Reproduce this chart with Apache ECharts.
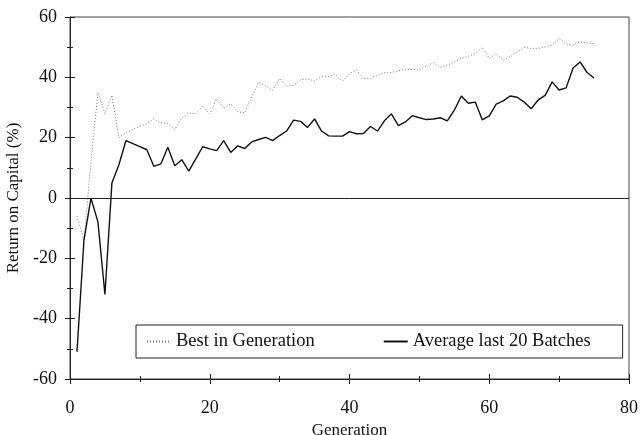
<!DOCTYPE html>
<html>
<head>
<meta charset="utf-8" />
<title>Return on Capital</title>
<script src="https://cdn.jsdelivr.net/npm/echarts@6/dist/echarts.min.js"></script>
<style>
	html, body { margin: 0; padding: 0; background: #fff; }
	#main { width: 641px; height: 435px; }
</style>
</head>
<body>
<div id="main"></div>
<script>
// generations 1..75
var generations = [];
for (var g = 1; g <= 75; g++) generations.push(g);

var bestInGeneration = [
	-6, -14, 12, 35, 28, 34, 20, 21.6, 22.7, 23.8,
	24.7, 26.2, 25, 24.7, 22.7, 26.5, 28.2, 28, 30.6, 27.8,
	32.9, 29.7, 31.3, 28.6, 28.2, 33.5, 38.3, 37.2, 35.7, 39.6,
	37.1, 37.4, 39.2, 39.5, 38.8, 40.2, 40.2, 41, 38.7, 41.3,
	42.4, 39.6, 39.6, 40.7, 41.5, 41.6, 42.2, 42.6, 42.6, 42.4,
	43.7, 44.9, 43.3, 44, 45.1, 46.3, 47, 47.9, 49.9, 46.3,
	47.9, 45.7, 46.8, 48.4, 49.9, 49.6, 49.6, 50.1, 50.7, 52.9,
	51, 50.7, 51.8, 51.4, 51.2
];

var averageLast20 = [
	-51, -14, 0, -8, -32, 5, 11, 19, 18, 17,
	16, 10.5, 11.3, 16.8, 10.7, 12.7, 8.9, 13, 17, 16.3,
	15.7, 19, 15.1, 17.3, 16.4, 18.6, 19.4, 20.1, 19, 20.7,
	22.2, 25.8, 25.4, 23.4, 26.2, 22.2, 20.6, 20.5, 20.5, 22,
	21.3, 21.4, 23.7, 22.2, 25.6, 27.9, 24, 25.2, 27.3, 26.6,
	26, 26.2, 26.6, 25.6, 29.1, 33.8, 31.4, 31.8, 25.9, 27.2,
	31.1, 32.2, 33.8, 33.4, 31.8, 29.6, 32.5, 34, 38.5, 35.8,
	36.5, 43.1, 45.1, 41.6, 39.8
];

var seriesNames = ['Best in Generation', 'Average last 20 Batches'];

function pairs(vals) {
	return vals.map(function (v, i) { return [generations[i], v]; });
}

var font = 'Liberation Serif';
var myChart = echarts.init(document.getElementById('main'));

var tickBase = {
	type: 'value',
	min: -60, max: 60, interval: 20,
	axisLine: { show: true, lineStyle: { color: '#222', width: 1 } },
	splitLine: { show: false }
};

var option = {
	animation: false,
	backgroundColor: '#fff',
	textStyle: { fontFamily: font },
	grid: {
		left: 70, right: 12, top: 17, bottom: 56,
		outerBoundsMode: 'none', containLabel: false,
		show: true, borderColor: '#444', borderWidth: 1
	},
	xAxis: [{
		type: 'value', min: 0, max: 80, interval: 20,
		name: 'Generation', nameLocation: 'middle', nameGap: 34,
		nameTextStyle: { fontFamily: font, fontSize: 17, color: '#111' },
		axisLine: { show: true, onZero: false, lineStyle: { color: '#222' } },
		axisTick: { show: true, inside: false, length: 5, lineStyle: { color: '#222' } },
		minorTick: { show: true, splitNumber: 2, length: 3, lineStyle: { color: '#222' } },
		axisLabel: { fontFamily: font, fontSize: 18, color: '#111', margin: 20 },
		splitLine: { show: false }
	}, {
		type: 'value', min: 0, max: 80, interval: 20, position: 'bottom',
		axisLine: { show: false, onZero: false },
		axisTick: { show: true, inside: true, length: 5, lineStyle: { color: '#222' } },
		minorTick: { show: true, splitNumber: 2, length: 3, lineStyle: { color: '#222' } },
		axisLabel: { show: false },
		splitLine: { show: false }
	}],
	yAxis: [Object.assign({}, tickBase, {
		name: 'Return on Capital (%)', nameLocation: 'middle', nameGap: 42,
		nameTextStyle: { fontFamily: font, fontSize: 17, color: '#111' },
		axisTick: { show: true, inside: false, length: 5, lineStyle: { color: '#222' } },
		minorTick: { show: true, splitNumber: 2, length: 3, lineStyle: { color: '#222' } },
		axisLabel: { fontFamily: font, fontSize: 18, color: '#111', margin: 13 }
	}), Object.assign({}, tickBase, {
		position: 'left',
		axisLine: { show: false },
		axisTick: { show: true, inside: true, length: 5, lineStyle: { color: '#222' } },
		minorTick: { show: true, splitNumber: 2, length: 3, lineStyle: { color: '#222' } },
		axisLabel: { show: false }
	})],
	legend: {
		left: 136, top: 325,
		data: seriesNames,
		orient: 'horizontal',
		itemWidth: 24, itemHeight: 10, itemGap: 68,
		padding: [7, 32, 7, 10],
		borderColor: '#222', borderWidth: 1,
		backgroundColor: '#fff',
		itemStyle: { opacity: 0 },
		textStyle: { fontFamily: font, fontSize: 18.5, color: '#111' }
	},
	series: [{
		name: seriesNames[0],
		type: 'line',
		data: pairs(bestInGeneration),
		symbol: 'none',
		lineStyle: { color: '#777', width: 1, type: [1, 2] },
		itemStyle: { color: '#777' },
		z: 2
	}, {
		name: seriesNames[1],
		type: 'line',
		data: pairs(averageLast20),
		symbol: 'none',
		lineStyle: { color: '#111', width: 1.4 },
		itemStyle: { color: '#111' },
		markLine: {
			silent: true, symbol: 'none', label: { show: false },
			lineStyle: { color: '#222', width: 1, type: 'solid' },
			data: [{ yAxis: 0 }]
		},
		z: 3
	}]
};

myChart.setOption(option);
</script>
</body>
</html>
